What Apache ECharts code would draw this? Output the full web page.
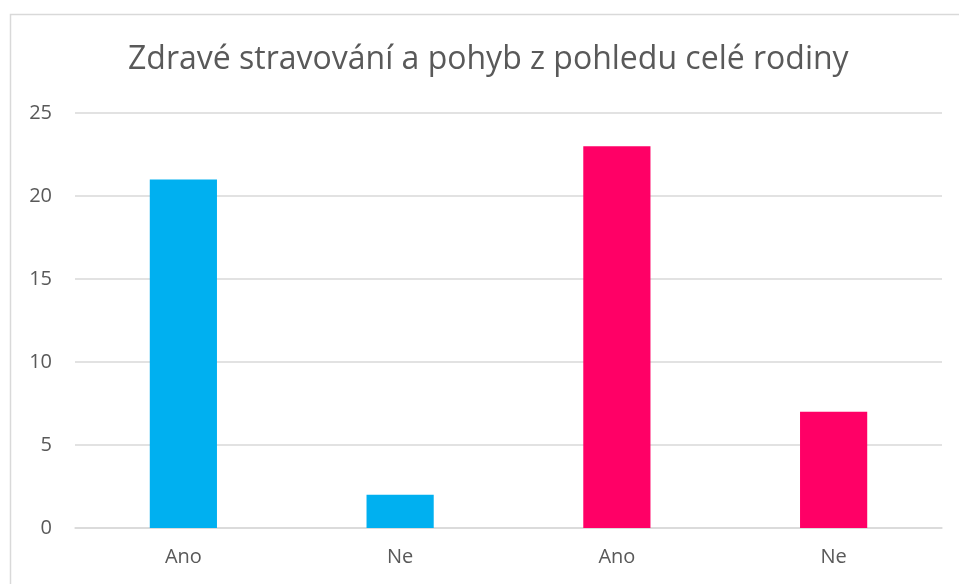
<!DOCTYPE html>
<html>
<head>
<meta charset="utf-8">
<script src="https://cdn.jsdelivr.net/npm/echarts@6/dist/echarts.min.js"></script>
<style>
html,body{margin:0;padding:0;background:#fff;}
#chart{width:959px;height:584px;}
</style>
</head>
<body>
<div id="chart"></div>
<script>
const titleText = 'Zdravé stravování a pohyb z pohledu celé rodiny';
const categories = ['Ano', 'Ne', 'Ano', 'Ne'];
const values = [21, 2, 23, 7];
const group = [0, 0, 1, 1];
const yTicks = [0, 5, 10, 15, 20, 25];

const groupColors = ['#00B0F0', '#FF0066'];
const fontFam = '"Open Sans", "Noto Sans", sans-serif';

const chart = echarts.init(document.getElementById('chart'), null, {renderer: 'canvas'});
chart.setOption({
  backgroundColor: '#fff',
  animation: false,
  title: {
    text: titleText,
    left: 123,
    top: 39,
    padding: 5,
    textStyle: {color: '#595959', fontSize: 32, fontWeight: 'normal', fontFamily: fontFam}
  },
  graphic: [{
    type: 'rect',
    shape: {x: 10.5, y: 14.5, width: 960, height: 600},
    style: {fill: 'none', stroke: '#d9d9d9', lineWidth: 1.5},
    silent: true
  }],
  grid: {left: 75, right: 17, top: 113, bottom: 56, containLabel: false},
  xAxis: {
    type: 'category',
    data: categories,
    axisLine: {show: true, lineStyle: {color: '#d9d9d9', width: 1.5}},
    axisTick: {show: false},
    axisLabel: {color: '#595959', fontSize: 20, fontFamily: fontFam, margin: 19}
  },
  yAxis: {
    type: 'value',
    min: yTicks[0],
    max: yTicks[yTicks.length - 1],
    interval: yTicks[1] - yTicks[0],
    axisLine: {show: false},
    axisTick: {show: false},
    splitLine: {lineStyle: {color: '#d9d9d9', width: 1.5}},
    axisLabel: {color: '#595959', fontSize: 20, fontFamily: fontFam, margin: 23}
  },
  series: [{
    type: 'bar',
    barWidth: '31%',
    data: values.map((v, i) => ({value: v, itemStyle: {color: groupColors[group[i]]}}))
  }]
});
</script>
</body>
</html>
